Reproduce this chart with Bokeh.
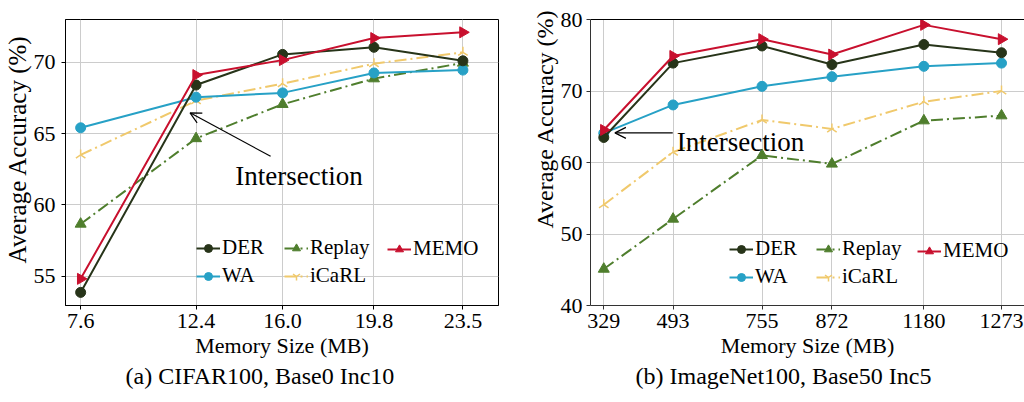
import numpy as np
from bokeh.plotting import figure
from bokeh.layouts import row
from bokeh.models import (Range1d, FixedTicker, PrintfTickFormatter, CustomJSTickFormatter,
                          Legend, LegendItem, Label, Arrow, OpenHead, Title, LinearAxis)
from bokeh.embed import file_html
from bokeh.resources import INLINE

FONT = "Liberation Serif"

# ---------------- data: (a) CIFAR100, Base0 Inc10 ----------------
mem_a = [7.6, 12.4, 16.0, 19.8, 23.5]
der_a = [53.85, 68.4, 70.55, 71.05, 70.1]
wa_a = [65.4, 67.55, 67.85, 69.25, 69.45]
replay_a = [58.65, 64.65, 67.05, 68.85, 69.95]
icarl_a = [63.5, 67.3, 68.5, 69.9, 70.7]
memo_a = [54.8, 69.1, 70.15, 71.7, 72.1]

# ---------------- data: (b) ImageNet100, Base50 Inc5 ----------------
mem_b_labels = ["329", "493", "755", "872", "1180", "1273"]
mem_b_pos = [0.0, 0.871, 1.989, 2.868, 4.024, 5.0]   # where each memory tick sits on the axis
der_b = [63.5, 73.9, 76.3, 73.7, 76.5, 75.35]
wa_b = [64.1, 68.05, 70.65, 72.0, 73.45, 73.9]
replay_b = [45.1, 52.1, 61.0, 59.8, 65.85, 66.55]
icarl_b = [54.1, 61.45, 65.95, 64.7, 68.5, 70.0]
memo_b = [64.55, 74.9, 77.25, 75.1, 79.25, 77.25]

STYLE = {
    "DER":    dict(color="#273419", marker="circle",   size=10, dash="solid",    angle=0.0),
    "WA":     dict(color="#27a1c6", marker="circle",   size=10, dash="solid",    angle=0.0),
    "Replay": dict(color="#4f7e2d", marker="triangle", size=11, dash="12 4 2 4", angle=0.0),
    "iCaRL":  dict(color="#f0c96c", marker="y",        size=11, dash="12 4 2 4", angle=np.pi),
    "MEMO":   dict(color="#c8102e", marker="triangle", size=11, dash="solid",    angle=-np.pi / 2),
}


def style_axes(p, label_standoff, spine_color="black"):
    for ax in (p.xaxis[0], p.yaxis[0]):
        ax.major_label_text_font = FONT
        ax.major_label_text_font_size = "22px"
        ax.major_label_text_color = "black"
        ax.axis_label_text_font = FONT
        ax.axis_label_text_font_size = "22px"
        ax.axis_label_text_font_style = "normal"
        ax.axis_label_text_color = "black"
        ax.minor_tick_line_color = None
        ax.major_tick_in = 0
        ax.major_tick_out = 4
        ax.major_tick_line_color = spine_color
        ax.axis_line_color = spine_color
    p.yaxis[0].major_label_standoff = label_standoff
    p.xaxis[0].major_label_standoff = 4
    p.xaxis[0].axis_label_standoff = 2
    p.xgrid.grid_line_color = "#cccccc"
    p.ygrid.grid_line_color = "#cccccc"
    p.xgrid.grid_line_width = 1
    p.ygrid.grid_line_width = 1


def spacer(p, size):
    ax = LinearAxis(ticker=FixedTicker(ticks=[]), major_label_text_font_size="0px",
                    major_tick_out=size, major_tick_in=0, major_tick_line_color=None,
                    minor_tick_line_color=None, major_label_standoff=0, axis_line_color=None)
    p.add_layout(ax, "below")


def draw(p, xs, series):
    rends = {}
    for name in ["iCaRL", "Replay", "WA", "DER", "MEMO"]:
        ys = series[name]
        s = STYLE[name]
        rl = p.line(xs, ys, line_color=s["color"], line_width=2, line_dash=s["dash"])
        rs = p.scatter(xs, ys, marker=s["marker"], size=s["size"], fill_color=s["color"],
                       line_color=s["color"], line_width=1.5 if name == "iCaRL" else 1,
                       angle=s["angle"])
        rends[name] = [rl, rs]
    return rends


def add_legends(p, rends, locs):
    cols = [["DER", "WA"], ["Replay", "iCaRL"], ["MEMO"]]
    for col, loc in zip(cols, locs):
        leg = Legend(items=[LegendItem(label=n, renderers=rends[n]) for n in col],
                     location=loc, orientation="vertical", padding=0, margin=0, spacing=3,
                     glyph_width=24, glyph_height=20, label_standoff=2, label_height=20,
                     label_text_font=FONT, label_text_font_size="21px",
                     label_text_color="black",
                     background_fill_alpha=0, border_line_alpha=0)
        p.add_layout(leg)


# ---------------- panel (a) ----------------
pa = figure(width=512, height=402, output_backend="svg", toolbar_location=None,
            x_range=Range1d(6.97, 24.98), y_range=Range1d(52.93, 73.0),
            min_border_left=65, min_border_right=14, min_border_top=4, min_border_bottom=97,
            background_fill_color="white", border_fill_color="white")
pa.outline_line_color = "black"
pa.outline_line_width = 1
pa.xaxis.ticker = FixedTicker(ticks=mem_a)
pa.xaxis.formatter = PrintfTickFormatter(format="%.1f")
pa.yaxis.ticker = FixedTicker(ticks=[55, 60, 65, 70])
pa.xaxis.axis_label = "Memory Size (MB)"
style_axes(pa, 6)
spacer(pa, 7)
pa.add_layout(Title(text="(a) CIFAR100, Base0 Inc10", align="left", offset=60,
                    standoff=0, text_font=FONT, text_font_size="24px",
                    text_font_style="normal", text_color="black"), "below")
pa.add_layout(Title(text="Average Accuracy (%)", align="left", offset=42,
                    standoff=0, text_font=FONT, text_font_size="25px",
                    text_font_style="normal", text_color="black"), "left")

rends_a = draw(pa, mem_a, {"DER": der_a, "WA": wa_a, "Replay": replay_a,
                           "iCaRL": icarl_a, "MEMO": memo_a})
add_legends(pa, rends_a, [(131, 17), (219, 17), (322, 44)])

pa.add_layout(Label(x=14.03, y=62.0, text="Intersection", text_align="left",
                    text_baseline="alphabetic", text_font=FONT, text_font_size="27px",
                    text_color="black"))
pa.add_layout(Arrow(end=OpenHead(size=11, line_width=1.2, line_color="black"),
                    x_start=15.5, y_start=63.4, x_end=12.15, y_end=66.45,
                    line_width=1.2, line_color="black"))

# ---------------- panel (b) ----------------
pb = figure(width=512, height=402, output_backend="svg", toolbar_location=None,
            x_range=Range1d(-0.167, 5.289), y_range=Range1d(40, 80),
            min_border_left=78, min_border_right=0, min_border_top=19, min_border_bottom=95,
            background_fill_color="white", border_fill_color="white")
pb.outline_line_color = None
pb.xaxis.ticker = FixedTicker(ticks=mem_b_pos)
pb.xaxis.formatter = CustomJSTickFormatter(args=dict(pos=mem_b_pos, labels=mem_b_labels), code="""
    for (let i = 0; i < pos.length; i++) { if (Math.abs(pos[i] - tick) < 1e-6) return labels[i]; }
    return '';
""")
pb.yaxis.ticker = FixedTicker(ticks=[40, 50, 60, 70, 80])
pb.xaxis.axis_label = "Memory Size (MB)"
style_axes(pb, 4, spine_color="#333333")
top_axis = LinearAxis(ticker=FixedTicker(ticks=[]), major_label_text_font_size="0px",
                      major_tick_out=0, major_tick_in=0, minor_tick_line_color=None,
                      major_label_standoff=0, axis_line_color="black")
pb.add_layout(top_axis, "above")
spacer(pb, 6)
pb.add_layout(Title(text="(b) ImageNet100, Base50 Inc5", align="left", offset=45,
                    standoff=0, text_font=FONT, text_font_size="24px",
                    text_font_style="normal", text_color="black"), "below")
pb.add_layout(Title(text="Average Accuracy (%)", align="left", offset=77,
                    standoff=0, text_font=FONT, text_font_size="24px",
                    text_font_style="normal", text_color="black"), "left")

rends_b = draw(pb, mem_b_pos, {"DER": der_b, "WA": wa_b, "Replay": replay_b,
                               "iCaRL": icarl_b, "MEMO": memo_b})
add_legends(pb, rends_b, [(139, 16), (226, 16), (327, 42)])

pb.add_layout(Label(x=0.917, y=62.93, text="Intersection", text_align="left",
                    text_baseline="alphabetic", text_font=FONT, text_font_size="27px",
                    text_color="black"))
pb.add_layout(Arrow(end=OpenHead(size=11, line_width=1.2, line_color="black"),
                    x_start=0.867, y_start=64.14, x_end=0.14, y_end=64.14,
                    line_width=1.2, line_color="black"))

layout = row(pa, pb)
open("out.html", "w").write(file_html(layout, INLINE))
